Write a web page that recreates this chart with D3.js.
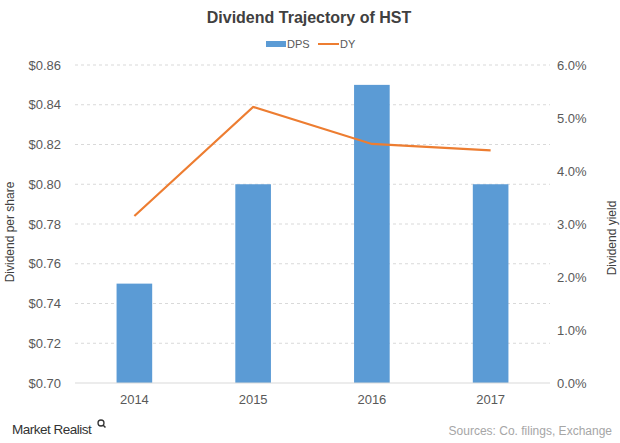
<!DOCTYPE html>
<html>
<head>
<meta charset="utf-8">
<script src="https://cdn.jsdelivr.net/npm/d3@7"></script>
<style>
  body { margin: 0; background: #fff; }
  svg { font-family: "Liberation Sans", Arial, sans-serif; }
</style>
</head>
<body>
<svg id="chart_svg" width="620" height="443"></svg>
<script>
// Data
var years = ["2014", "2015", "2016", "2017"];
var dps = [0.75, 0.80, 0.85, 0.80];
var dy = [3.15, 5.21, 4.51, 4.39];
var leftTicks = [0.70, 0.72, 0.74, 0.76, 0.78, 0.80, 0.82, 0.84, 0.86];
var rightTicks = [0, 1, 2, 3, 4, 5, 6];

var svg = d3.select("#chart_svg");
var margin = {left: 75, right: 70, top: 65, bottom: 60};
var width = 620, height = 443;

// Scales
var xScale = d3.scaleBand().domain(years)
    .range([margin.left, width - margin.right])
    .paddingInner(0.7).paddingOuter(0.35);
var yLeft = d3.scaleLinear().domain([0.70, 0.86]).range([height - margin.bottom, margin.top]);
var yRight = d3.scaleLinear().domain([0, 6]).range([height - margin.bottom, margin.top]);

// Grid lines
svg.append("g")
    .selectAll("line")
    .data(leftTicks.slice(1))
    .enter()
    .append("line")
        .attr("x1", margin.left)
        .attr("x2", width - margin.right)
        .attr("y1", function(d) { return yLeft(d); })
        .attr("y2", function(d) { return yLeft(d); })
        .style("stroke", "#d9d9d9")
        .style("stroke-width", 1)
        .style("stroke-dasharray", "3,3");

// Bars
svg.append("g")
    .selectAll("rect")
    .data(years)
    .enter()
    .append("rect")
        .attr("x", function(d) { return xScale(d); })
        .attr("width", xScale.bandwidth())
        .attr("y", function(d, i) { return yLeft(dps[i]); })
        .attr("height", function(d, i) { return yLeft(0.70) - yLeft(dps[i]); })
        .style("fill", "#5b9bd5");

// Baseline
svg.append("line")
    .attr("x1", margin.left)
    .attr("x2", width - margin.right)
    .attr("y1", yLeft(0.70))
    .attr("y2", yLeft(0.70))
    .style("stroke", "#d9d9d9")
    .style("stroke-width", 1);

// Yield line
svg.append("path")
    .datum(years)
    .attr("fill", "none")
    .attr("stroke", "#ed7d31")
    .attr("stroke-width", 2.2)
    .attr("d", d3.line()
        .x(function(d) { return xScale(d) + xScale.bandwidth() / 2; })
        .y(function(d, i) { return yRight(dy[i]); })
    );

// Left axis
var leftAxis = svg.append("g")
    .attr("transform", "translate(" + margin.left + ",0)")
    .call(d3.axisLeft(yLeft).tickValues(leftTicks).tickSize(0).tickPadding(14)
        .tickFormat(function(d) { return "$" + d.toFixed(2); }));
leftAxis.select(".domain").remove();

// Right axis
var rightAxis = svg.append("g")
    .attr("transform", "translate(" + (width - margin.right) + ",0)")
    .call(d3.axisRight(yRight).tickValues(rightTicks).tickSize(0).tickPadding(7)
        .tickFormat(function(d) { return d.toFixed(1) + "%"; }));
rightAxis.select(".domain").remove();

// X axis
var xAxis = svg.append("g")
    .attr("transform", "translate(0," + (height - margin.bottom) + ")")
    .call(d3.axisBottom(xScale).tickSize(0).tickPadding(12));
xAxis.select(".domain").remove();

svg.selectAll(".tick text")
    .style("font-size", "13px")
    .style("fill", "#595959");

// Title
svg.append("text")
    .attr("x", 309).attr("y", 23)
    .attr("text-anchor", "middle")
    .style("font-size", "16px")
    .style("font-weight", "bold")
    .style("fill", "#404040")
    .text("Dividend  Trajectory  of HST");

// Legend
var legend = svg.append("g");
legend.append("rect")
    .attr("x", 266).attr("y", 41).attr("width", 20).attr("height", 6)
    .style("fill", "#5b9bd5");
legend.append("text")
    .attr("x", 287).attr("y", 48)
    .style("font-size", "11px").style("fill", "#595959")
    .text("DPS");
legend.append("line")
    .attr("x1", 318).attr("x2", 339).attr("y1", 44).attr("y2", 44)
    .style("stroke", "#ed7d31").style("stroke-width", 2);
legend.append("text")
    .attr("x", 340).attr("y", 48)
    .style("font-size", "11px").style("fill", "#595959")
    .text("DY");

// Axis titles
svg.append("text")
    .attr("transform", "translate(14,232) rotate(-90)")
    .attr("text-anchor", "middle")
    .style("font-size", "12px")
    .style("fill", "#404040")
    .text("Dividend per share");

svg.append("text")
    .attr("transform", "translate(616,238) rotate(-90)")
    .attr("text-anchor", "middle")
    .style("font-size", "12px")
    .style("fill", "#404040")
    .text("Dividend yield");

// Footer
svg.append("text")
    .attr("x", 12).attr("y", 434)
    .style("font-size", "13.5px")
    .style("fill", "#333")
    .style("letter-spacing", "-0.5px")
    .text("Market Realist");
svg.append("circle")
    .attr("cx", 101).attr("cy", 423).attr("r", 3)
    .style("fill", "none").style("stroke", "#333").style("stroke-width", 1.3);
svg.append("line")
    .attr("x1", 103.2).attr("y1", 425.2).attr("x2", 105.5).attr("y2", 427.5)
    .style("stroke", "#333").style("stroke-width", 1.5);

svg.append("text")
    .attr("x", 612).attr("y", 435)
    .attr("text-anchor", "end")
    .style("font-size", "12px")
    .style("fill", "#a6a6a6")
    .text("Sources: Co. filings, Exchange");
</script>
</body>
</html>
